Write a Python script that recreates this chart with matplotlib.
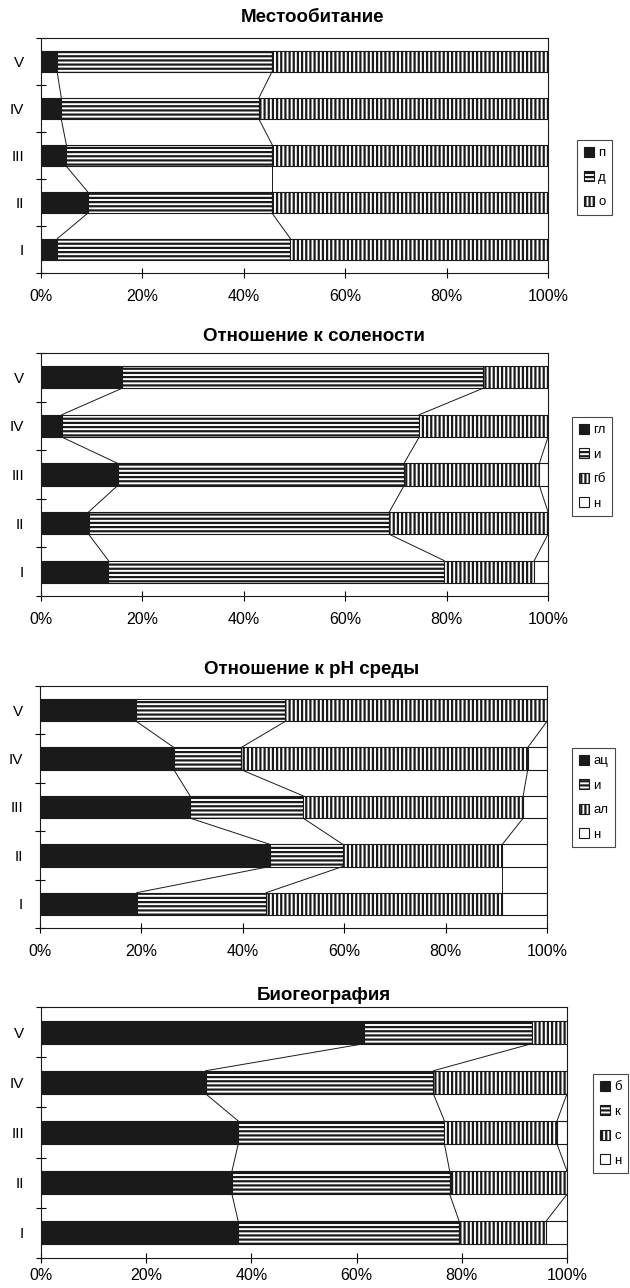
import matplotlib
matplotlib.use("Agg")
import matplotlib.pyplot as plt
import numpy as np

plt.rcParams['font.family'] = ['Liberation Sans', 'DejaVu Sans']
plt.rcParams['hatch.linewidth'] = 1.6

# groups, bottom to top
cats = ['I', 'II', 'III', 'IV', 'V']

# Местообитание
hab_names = ['п', 'д', 'о']
hab_p = [3.2, 9.2, 5.0, 4.0, 3.2]
hab_d = [46.0, 36.4, 40.6, 39.0, 42.3]
hab_o = [50.8, 54.4, 54.4, 57.0, 54.5]

# Отношение к солености
sal_names = ['гл', 'и', 'гб', 'н']
sal_gl = [13.3, 9.4, 15.1, 4.1, 15.9]
sal_i = [66.2, 59.3, 56.5, 70.5, 71.2]
sal_gb = [17.8, 31.3, 26.7, 25.4, 12.9]
sal_n = [2.7, 0.0, 1.7, 0.0, 0.0]

# Отношение к pH среды
ph_names = ['ац', 'и', 'ал', 'н']
ph_ac = [19.1, 45.3, 29.6, 26.4, 19.0]
ph_i = [25.5, 14.4, 22.3, 13.3, 29.4]
ph_al = [46.6, 31.5, 43.4, 56.5, 51.6]
ph_n = [8.8, 8.8, 4.7, 3.8, 0.0]

# Биогеография
bio_names = ['б', 'к', 'с', 'н']
bio_b = [37.5, 36.3, 37.5, 31.3, 61.5]
bio_k = [42.0, 41.4, 39.2, 43.3, 31.8]
bio_s = [16.5, 22.3, 21.4, 25.4, 6.7]
bio_n = [4.0, 0.0, 1.9, 0.0, 0.0]

W, H = 630, 1288
fig = plt.figure(figsize=(W / 100, H / 100), dpi=100)

styles = [
    dict(color='#1a1a1a', hatch=None),
    dict(color='white', hatch='----'),
    dict(color='white', hatch='||||'),
    dict(color='white', hatch=None),
]


def px_axes(l, t, r, b):
    return fig.add_axes([l / W, 1 - b / H, (r - l) / W, (b - t) / H])


def panel(box, title, title_xy, names, series, legend_box, xpad=8):
    ax = px_axes(*box)
    y = np.arange(len(cats))
    h = 0.46
    left = np.zeros(len(cats))
    handles = []
    for k, vals in enumerate(series):
        st = styles[k]
        bars = ax.barh(y, vals, height=h, left=left, color=st['color'],
                       hatch=st['hatch'], edgecolor='#1a1a1a', linewidth=0.8,
                       label=names[k])
        handles.append(bars)
        left = left + np.array(vals)
        # series lines between neighbouring bars
        if k < len(series) - 1:
            for i in range(len(cats) - 1):
                ax.plot([left[i], left[i + 1]], [y[i] + h / 2, y[i + 1] - h / 2],
                        color='#1a1a1a', lw=0.7)
    ax.set_xlim(0, 100)
    ax.set_ylim(-0.5, len(cats) - 0.5)
    ax.set_xticks(np.arange(0, 101, 20))
    ax.set_xticklabels([f'{v}%' for v in range(0, 101, 20)], fontsize=11.5)
    ax.set_yticks(y)
    ax.set_yticklabels(cats, fontsize=11)
    ax.set_yticks(np.arange(-0.5, len(cats), 1.0), minor=True)
    ax.tick_params(axis='y', which='major', length=0, pad=12)
    ax.tick_params(axis='y', which='minor', direction='inout', length=7, width=0.8)
    ax.tick_params(axis='x', direction='inout', length=7, width=0.8, pad=xpad)
    for s in ax.spines.values():
        s.set_linewidth(0.8)
        s.set_color('#1a1a1a')
    fig.text(title_xy[0] / W, 1 - title_xy[1] / H, title, ha='center', va='center',
             fontsize=13.5, fontweight='bold')
    l, t, r, b = legend_box
    leg = fig.legend(handles=handles, labels=names, loc='upper left',
                     bbox_to_anchor=(l / W, 1 - t / H), fontsize=9.5,
                     handlelength=0.8, handleheight=0.8, handletextpad=0.3,
                     labelspacing=0.9, borderpad=0.5, fancybox=False,
                     frameon=True, edgecolor='#1a1a1a', borderaxespad=0)
    leg.get_frame().set_linewidth(0.8)
    return ax


panel((41, 38, 548, 273), 'Местообитание', (312, 18), hab_names,
      [hab_p, hab_d, hab_o], (577, 140, 616, 204))
panel((41, 353, 548, 596), 'Отношение к солености', (314, 336), sal_names,
      [sal_gl, sal_i, sal_gb, sal_n], (572, 417, 614, 535))
panel((40, 686, 547, 928), 'Отношение к pH среды', (312, 669), ph_names,
      [ph_ac, ph_i, ph_al, ph_n], (572, 748, 617, 862))
panel((41, 1007, 567, 1258), 'Биогеография', (324, 995), bio_names,
      [bio_b, bio_k, bio_s, bio_n], (593, 1074, 630, 1191), xpad=4)

fig.savefig('out.png', dpi=100)
